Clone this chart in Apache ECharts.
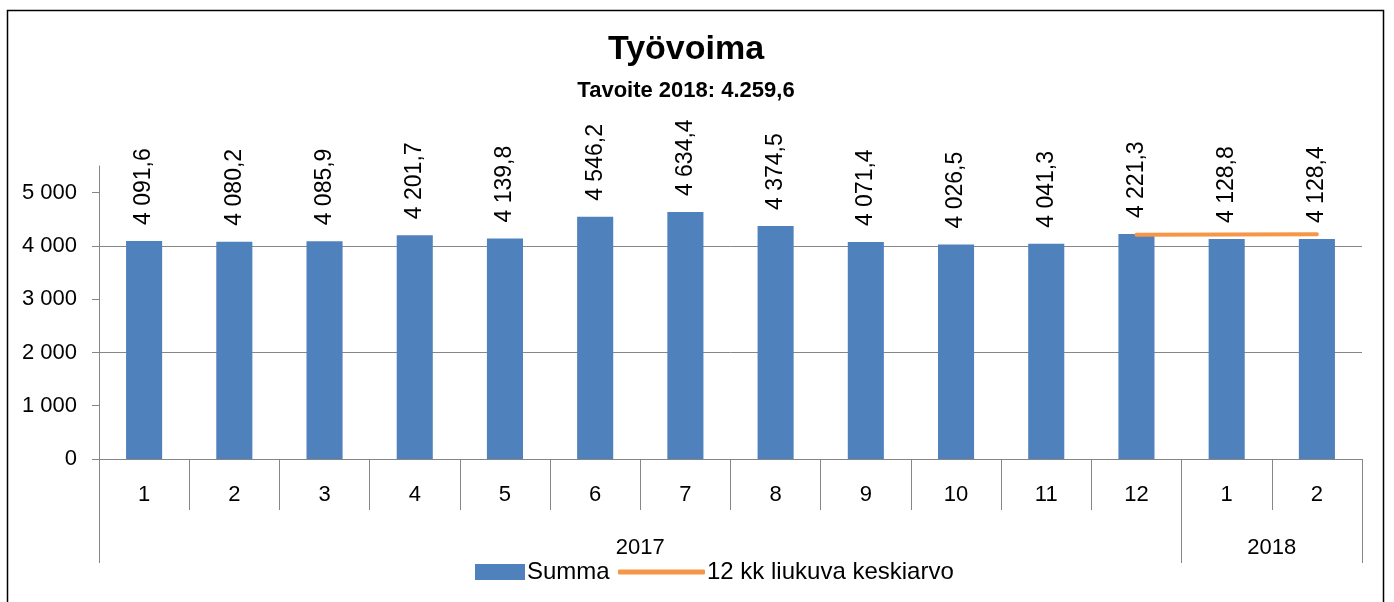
<!DOCTYPE html>
<html>
<head>
<meta charset="utf-8">
<script src="https://cdn.jsdelivr.net/npm/echarts@6/dist/echarts.min.js"></script>
<style>
  html, body { margin: 0; padding: 0; background: #fff; }
  #chart { width: 1394px; height: 602px; }
</style>
</head>
<body>
<div id="chart"></div>
<script>
// kuukaudet ja arvot
var months = ['1', '2', '3', '4', '5', '6', '7', '8', '9', '10', '11', '12', '1', '2'];
var summa = [4091.6, 4080.2, 4085.9, 4201.7, 4139.8, 4546.2, 4634.4, 4374.5, 4071.4, 4026.5, 4041.3, 4221.3, 4128.8, 4128.4];
var keskiarvo = [null, null, null, null, null, null, null, null, null, null, null, 4209.6, 4212.7, 4216.7];
var years = ['2017', '2018'];
var yearSpans = [12, 2];
var yTicks = [0, 1000, 2000, 3000, 4000, 5000];

var FONT = "'Liberation Sans', Arial, sans-serif";
var GRAY = '#868686';

// vuosirajat ja keskikohdat
var yearBounds = [0], yearCenters = [];
yearSpans.forEach(function (s, i) {
    var start = yearBounds[yearBounds.length - 1];
    yearCenters.push(start + s / 2);
    yearBounds.push(start + s);
});

function fmt(v, dec) {
    var parts = v.toFixed(dec).split('.');
    var int = parts[0].replace(/\B(?=(\d{3})+(?!\d))/g, ' ');
    return parts.length > 1 ? int + ',' + parts[1] : int;
}

var myChart = echarts.init(document.getElementById('chart'));
myChart.setOption({
    animation: false,
    textStyle: { fontFamily: FONT },
    title: [{
        text: 'Työvoima',
        left: 681, top: 28, textAlign: 'center',
        textStyle: { fontFamily: FONT, fontSize: 34, fontWeight: 'bold', color: '#000' }
    }, {
        text: 'Tavoite 2018: 4.259,6',
        left: 681, top: 75, textAlign: 'center',
        textStyle: { fontFamily: FONT, fontSize: 22, fontWeight: 'bold', color: '#000' }
    }],
    legend: [{
        data: [{ name: 'Summa', icon: 'rect' }],
        left: 470, top: 555,
        itemWidth: 50, itemHeight: 16, itemGap: 4,
        textStyle: { fontFamily: FONT, fontSize: 24, color: '#000', padding: [0, 0, 0, -3] }
    }, {
        data: [{ name: '12 kk liukuva keskiarvo', icon: 'roundRect' }],
        left: 613, top: 555,
        itemWidth: 87, itemHeight: 5,
        itemStyle: { color: '#F79646' },
        textStyle: { fontFamily: FONT, fontSize: 24, color: '#000', padding: [0, 0, 0, -3] }
    }],
    grid: { left: 99, right: 32, top: 166, bottom: 143 },
    xAxis: [{
        type: 'category',
        data: months,
        position: 'bottom',
        axisLine: { lineStyle: { color: GRAY, width: 1 } },
        axisTick: { show: true, interval: 0, length: 51, lineStyle: { color: GRAY } },
        axisLabel: { interval: 0, margin: 25, color: '#000', fontSize: 22, fontFamily: FONT },
        splitLine: { show: false }
    }, {
        type: 'value',
        min: 0, max: yearBounds[yearBounds.length - 1],
        position: 'bottom',
        axisLine: { show: false },
        axisTick: { show: true, customValues: yearBounds, length: 104, lineStyle: { color: GRAY } },
        axisLabel: {
            customValues: yearCenters, margin: 78, color: '#000', fontSize: 22, fontFamily: FONT,
            formatter: function (v) { return years[yearCenters.indexOf(v)]; }
        },
        splitLine: { show: false }
    }],
    yAxis: {
        type: 'value',
        min: 0, max: 5500, interval: 500,
        axisLine: { show: true, lineStyle: { color: GRAY } },
        axisTick: { show: true, customValues: yTicks, length: 7, lineStyle: { color: GRAY } },
        axisLabel: {
            customValues: yTicks, margin: 22, color: '#000', fontSize: 22, fontFamily: FONT,
            formatter: function (v) { return fmt(v, 0); }
        },
        splitLine: {
            show: true,
            lineStyle: {
                color: [GRAY, 'rgba(0,0,0,0)', GRAY, 'rgba(0,0,0,0)', GRAY, 'rgba(0,0,0,0)', GRAY, 'rgba(0,0,0,0)', GRAY, 'rgba(0,0,0,0)', GRAY, 'rgba(0,0,0,0)'],
                width: 1
            }
        }
    },
    series: [{
        name: 'Summa',
        type: 'bar',
        data: summa,
        barWidth: '40%',
        itemStyle: { color: '#4F81BD' },
        label: {
            show: true,
            position: 'top',
            rotate: 90,
            align: 'left',
            verticalAlign: 'middle',
            distance: 16,
            fontSize: 23,
            fontFamily: FONT,
            color: '#000',
            formatter: function (p) { return fmt(p.value, 1); }
        }
    }, {
        name: '12 kk liukuva keskiarvo',
        type: 'line',
        data: keskiarvo,
        symbol: 'none',
        lineStyle: { color: '#F79646', width: 4, cap: 'round' },
        itemStyle: { color: '#F79646' }
    }],
    graphic: [{
        type: 'rect',
        shape: { x: 7.5, y: 10.5, width: 1376, height: 640 },
        style: { fill: 'none', stroke: '#000', lineWidth: 1.5 },
        silent: true
    }]
});
window.onresize = myChart.resize;
</script>
</body>
</html>
